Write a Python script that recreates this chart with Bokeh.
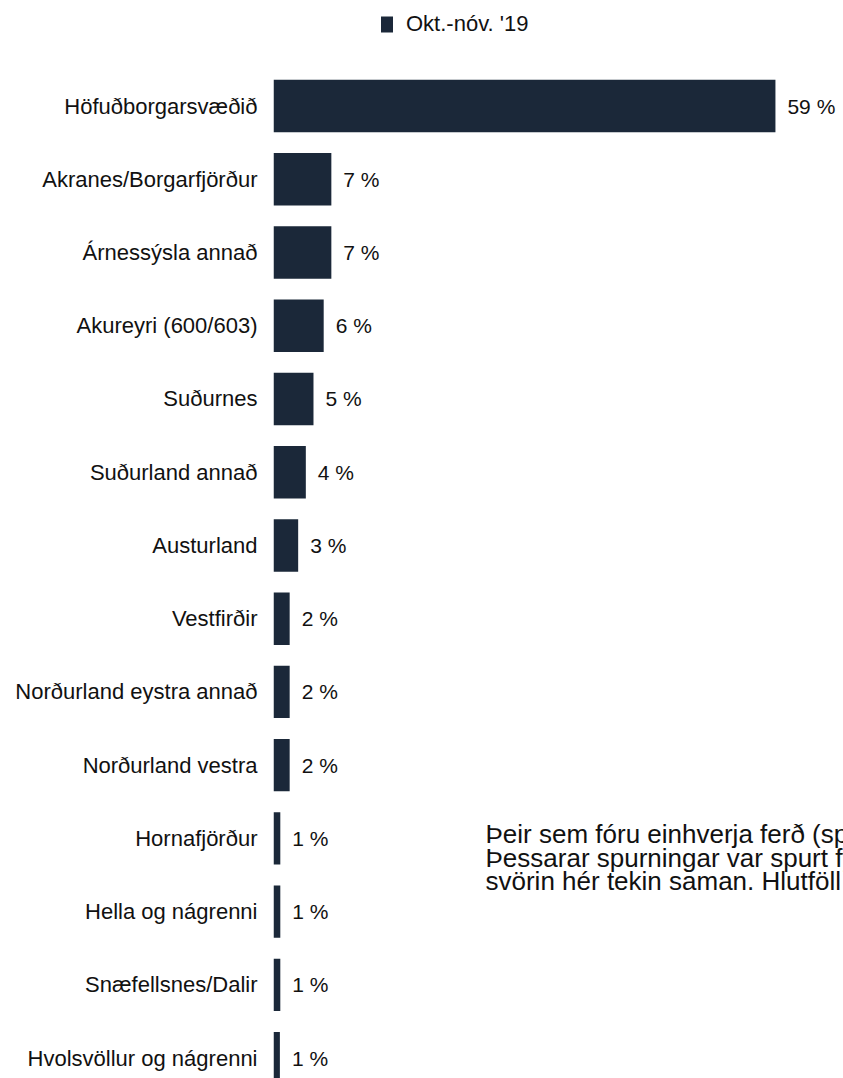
from bokeh.plotting import figure
from bokeh.models import ColumnDataSource, Range1d, FixedTicker, Legend, LegendItem, Label
from bokeh.core.properties import value
from bokeh.embed import file_html
from bokeh.resources import INLINE

categories = [
    "Höfuðborgarsvæðið",
    "Akranes/Borgarfjörður",
    "Árnessýsla annað",
    "Akureyri (600/603)",
    "Suðurnes",
    "Suðurland annað",
    "Austurland",
    "Vestfirðir",
    "Norðurland eystra annað",
    "Norðurland vestra",
    "Hornafjörður",
    "Hella og nágrenni",
    "Snæfellsnes/Dalir",
    "Hvolsvöllur og nágrenni",
]
values = [59.0, 6.8, 6.8, 5.9, 4.7, 3.8, 2.9, 1.9, 1.9, 1.9, 0.8, 0.8, 0.8, 0.75]
series_name = "Okt.-nóv. '19"
note_lines = [
    "Þeir sem fóru einhverja ferð (spurt var um allt að þrjár ferðir).",
    "Þessarar spurningar var spurt fyrir hverja ferð og eru",
    "svörin hér tekin saman. Hlutföll eru reiknuð af fjölda ferða.",
]

FONT = "Liberation Sans"
BAR = "#1b2839"
TXT = "#111111"

idx = list(range(len(categories)))
src = ColumnDataSource(dict(
    y=idx,
    v=values,
    lab=[f"{round(v)} %" for v in values],
))

p = figure(
    width=843, height=1078,
    x_range=Range1d(0, 67.0),
    y_range=Range1d(13.278, -1.4408),
    output_backend="svg", toolbar_location=None,
    min_border_left=273, min_border_right=0, min_border_top=0, min_border_bottom=0,
)
p.outline_line_color = None
p.xgrid.visible = False
p.ygrid.visible = False
p.xaxis.visible = False

bars = p.hbar(y="y", left=0, right="v", height=0.715, source=src,
              fill_color=BAR, line_color=None)

p.text(x="v", y="y", text="lab", source=src, x_offset=12,
       text_baseline="middle", text_align="left",
       text_font=value(FONT), text_font_size="21px", text_color=TXT)

ya = p.yaxis[0]
ya.ticker = FixedTicker(ticks=idx)
ya.major_label_overrides = {i: c for i, c in zip(idx, categories)}
ya.axis_line_color = None
ya.major_tick_line_color = None
ya.minor_tick_line_color = None
ya.major_tick_out = 0
ya.major_tick_in = 0
ya.major_label_standoff = 16
ya.major_label_text_font = FONT
ya.major_label_text_font_size = "22px"
ya.major_label_text_color = TXT

legend = Legend(
    items=[LegendItem(label=series_name, renderers=[bars])],
    location=(106, 1041),
    orientation="horizontal",
    glyph_width=15, glyph_height=20,
    label_text_font=FONT, label_text_font_size="22px", label_text_color=TXT,
    label_standoff=12, label_height=18,
    padding=0, margin=0, spacing=0,
    border_line_color=None, background_fill_alpha=0,
)
p.add_layout(legend, "center")

for i, line in enumerate(note_lines):
    p.add_layout(Label(x=24.92, y=9.946 + 0.321 * i, text=line,
                       text_font=FONT, text_font_size="26px", text_color=TXT,
                       text_baseline="middle", text_align="left"))

open("out.html", "w").write(file_html(p, INLINE))
